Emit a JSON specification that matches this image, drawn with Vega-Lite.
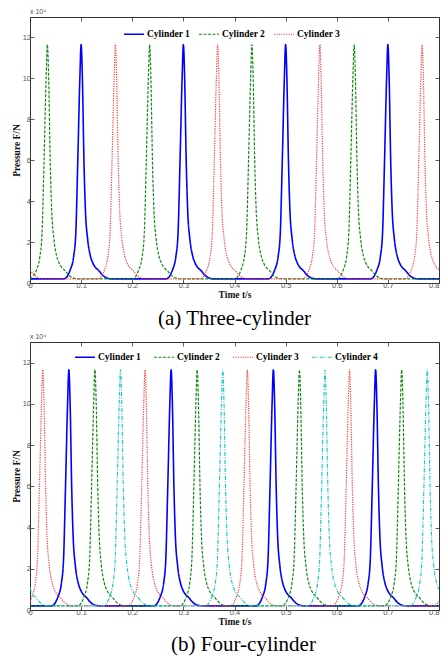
{
"$schema": "https://vega.github.io/schema/vega-lite/v6.json",
"background": "white",
"padding": {"left": 10, "top": 7, "right": 0, "bottom": 0},
"spacing": 2,
"config": {
 "font": "Liberation Sans",
 "view": {"stroke": "#333", "strokeWidth": 1},
 "axis": {"domain": false, "grid": false, "tickSize": -4, "tickColor": "#333", "tickWidth": 0.8, "labelFont": "Liberation Sans", "labelFontSize": 7.5, "labelColor": "#555", "titleFont": "Liberation Serif", "titleFontSize": 9.5, "titleFontWeight": "bold", "titleColor": "#111", "labelFlush": false},
 "axisLeft": {"labelPadding": 3.5, "titlePadding": 1},
 "axisBottom": {"labelPadding": 2, "titlePadding": 1},
 "title": {"font": "Liberation Serif", "fontSize": 21, "fontWeight": "normal", "color": "#000"}
},
"resolve": {"scale": {"color": "independent", "strokeDash": "independent", "strokeWidth": "independent"}, "legend": {"color": "independent", "strokeDash": "independent"}},
"datasets": {
"three": [
{"c":1,"t":0,"v":0.2},
{"c":1,"t":0.066,"v":0.2},{"c":1,"t":0.0793,"v":0.68},{"c":1,"t":0.0854,"v":1.3},{"c":1,"t":0.0895,"v":2.4},{"c":1,"t":0.0935,"v":6},{"c":1,"t":0.0975,"v":10},{"c":1,"t":0.1,"v":11.65},{"c":1,"t":0.1025,"v":10},{"c":1,"t":0.1055,"v":6},{"c":1,"t":0.1085,"v":3.5},{"c":1,"t":0.1125,"v":2.2},{"c":1,"t":0.1184,"v":1.3},{"c":1,"t":0.1225,"v":1},{"c":1,"t":0.128,"v":0.76},{"c":1,"t":0.134,"v":0.62},{"c":1,"t":0.141,"v":0.41},{"c":1,"t":0.148,"v":0.27},{"c":1,"t":0.16,"v":0.2},
{"c":1,"t":0.266,"v":0.2},{"c":1,"t":0.2793,"v":0.68},{"c":1,"t":0.2854,"v":1.3},{"c":1,"t":0.2895,"v":2.4},{"c":1,"t":0.2935,"v":6},{"c":1,"t":0.2975,"v":10},{"c":1,"t":0.3,"v":11.65},{"c":1,"t":0.3025,"v":10},{"c":1,"t":0.3055,"v":6},{"c":1,"t":0.3085,"v":3.5},{"c":1,"t":0.3125,"v":2.2},{"c":1,"t":0.3184,"v":1.3},{"c":1,"t":0.3225,"v":1},{"c":1,"t":0.328,"v":0.76},{"c":1,"t":0.334,"v":0.62},{"c":1,"t":0.341,"v":0.41},{"c":1,"t":0.348,"v":0.27},{"c":1,"t":0.36,"v":0.2},
{"c":1,"t":0.466,"v":0.2},{"c":1,"t":0.4793,"v":0.68},{"c":1,"t":0.4854,"v":1.3},{"c":1,"t":0.4895,"v":2.4},{"c":1,"t":0.4935,"v":6},{"c":1,"t":0.4975,"v":10},{"c":1,"t":0.5,"v":11.65},{"c":1,"t":0.5025,"v":10},{"c":1,"t":0.5055,"v":6},{"c":1,"t":0.5085,"v":3.5},{"c":1,"t":0.5125,"v":2.2},{"c":1,"t":0.5184,"v":1.3},{"c":1,"t":0.5225,"v":1},{"c":1,"t":0.528,"v":0.76},{"c":1,"t":0.534,"v":0.62},{"c":1,"t":0.541,"v":0.41},{"c":1,"t":0.548,"v":0.27},{"c":1,"t":0.56,"v":0.2},
{"c":1,"t":0.666,"v":0.2},{"c":1,"t":0.6793,"v":0.68},{"c":1,"t":0.6854,"v":1.3},{"c":1,"t":0.6895,"v":2.4},{"c":1,"t":0.6935,"v":6},{"c":1,"t":0.6975,"v":10},{"c":1,"t":0.7,"v":11.65},{"c":1,"t":0.7025,"v":10},{"c":1,"t":0.7055,"v":6},{"c":1,"t":0.7085,"v":3.5},{"c":1,"t":0.7125,"v":2.2},{"c":1,"t":0.7184,"v":1.3},{"c":1,"t":0.7225,"v":1},{"c":1,"t":0.728,"v":0.76},{"c":1,"t":0.734,"v":0.62},{"c":1,"t":0.741,"v":0.41},{"c":1,"t":0.748,"v":0.27},{"c":1,"t":0.76,"v":0.2},
{"c":1,"t":0.8,"v":0.2},
{"c":2,"t":0,"v":0.2},{"c":2,"t":0.0133,"v":0.68},{"c":2,"t":0.0194,"v":1.3},{"c":2,"t":0.0235,"v":2.4},{"c":2,"t":0.0275,"v":6},{"c":2,"t":0.0315,"v":10},{"c":2,"t":0.034,"v":11.65},{"c":2,"t":0.0365,"v":10},{"c":2,"t":0.0395,"v":6},{"c":2,"t":0.0425,"v":3.5},{"c":2,"t":0.0465,"v":2.2},{"c":2,"t":0.0524,"v":1.3},{"c":2,"t":0.0565,"v":1},{"c":2,"t":0.062,"v":0.76},{"c":2,"t":0.068,"v":0.62},{"c":2,"t":0.075,"v":0.41},{"c":2,"t":0.082,"v":0.27},{"c":2,"t":0.094,"v":0.2},
{"c":2,"t":0.2,"v":0.2},{"c":2,"t":0.2133,"v":0.68},{"c":2,"t":0.2194,"v":1.3},{"c":2,"t":0.2235,"v":2.4},{"c":2,"t":0.2275,"v":6},{"c":2,"t":0.2315,"v":10},{"c":2,"t":0.234,"v":11.65},{"c":2,"t":0.2365,"v":10},{"c":2,"t":0.2395,"v":6},{"c":2,"t":0.2425,"v":3.5},{"c":2,"t":0.2465,"v":2.2},{"c":2,"t":0.2524,"v":1.3},{"c":2,"t":0.2565,"v":1},{"c":2,"t":0.262,"v":0.76},{"c":2,"t":0.268,"v":0.62},{"c":2,"t":0.275,"v":0.41},{"c":2,"t":0.282,"v":0.27},{"c":2,"t":0.294,"v":0.2},
{"c":2,"t":0.4,"v":0.2},{"c":2,"t":0.4133,"v":0.68},{"c":2,"t":0.4194,"v":1.3},{"c":2,"t":0.4235,"v":2.4},{"c":2,"t":0.4275,"v":6},{"c":2,"t":0.4315,"v":10},{"c":2,"t":0.434,"v":11.65},{"c":2,"t":0.4365,"v":10},{"c":2,"t":0.4395,"v":6},{"c":2,"t":0.4425,"v":3.5},{"c":2,"t":0.4465,"v":2.2},{"c":2,"t":0.4524,"v":1.3},{"c":2,"t":0.4565,"v":1},{"c":2,"t":0.462,"v":0.76},{"c":2,"t":0.468,"v":0.62},{"c":2,"t":0.475,"v":0.41},{"c":2,"t":0.482,"v":0.27},{"c":2,"t":0.494,"v":0.2},
{"c":2,"t":0.6,"v":0.2},{"c":2,"t":0.6133,"v":0.68},{"c":2,"t":0.6194,"v":1.3},{"c":2,"t":0.6235,"v":2.4},{"c":2,"t":0.6275,"v":6},{"c":2,"t":0.6315,"v":10},{"c":2,"t":0.634,"v":11.65},{"c":2,"t":0.6365,"v":10},{"c":2,"t":0.6395,"v":6},{"c":2,"t":0.6425,"v":3.5},{"c":2,"t":0.6465,"v":2.2},{"c":2,"t":0.6524,"v":1.3},{"c":2,"t":0.6565,"v":1},{"c":2,"t":0.662,"v":0.76},{"c":2,"t":0.668,"v":0.62},{"c":2,"t":0.675,"v":0.41},{"c":2,"t":0.682,"v":0.27},{"c":2,"t":0.694,"v":0.2},
{"c":2,"t":0.8,"v":0.2},
{"c":3,"t":0,"v":0.64},{"c":3,"t":0.008,"v":0.41},{"c":3,"t":0.015,"v":0.27},{"c":3,"t":0.027,"v":0.2},
{"c":3,"t":0.133,"v":0.2},{"c":3,"t":0.1463,"v":0.68},{"c":3,"t":0.1524,"v":1.3},{"c":3,"t":0.1565,"v":2.4},{"c":3,"t":0.1605,"v":6},{"c":3,"t":0.1645,"v":10},{"c":3,"t":0.167,"v":11.65},{"c":3,"t":0.1695,"v":10},{"c":3,"t":0.1725,"v":6},{"c":3,"t":0.1755,"v":3.5},{"c":3,"t":0.1795,"v":2.2},{"c":3,"t":0.1854,"v":1.3},{"c":3,"t":0.1895,"v":1},{"c":3,"t":0.195,"v":0.76},{"c":3,"t":0.201,"v":0.62},{"c":3,"t":0.208,"v":0.41},{"c":3,"t":0.215,"v":0.27},{"c":3,"t":0.227,"v":0.2},
{"c":3,"t":0.333,"v":0.2},{"c":3,"t":0.3463,"v":0.68},{"c":3,"t":0.3524,"v":1.3},{"c":3,"t":0.3565,"v":2.4},{"c":3,"t":0.3605,"v":6},{"c":3,"t":0.3645,"v":10},{"c":3,"t":0.367,"v":11.65},{"c":3,"t":0.3695,"v":10},{"c":3,"t":0.3725,"v":6},{"c":3,"t":0.3755,"v":3.5},{"c":3,"t":0.3795,"v":2.2},{"c":3,"t":0.3854,"v":1.3},{"c":3,"t":0.3895,"v":1},{"c":3,"t":0.395,"v":0.76},{"c":3,"t":0.401,"v":0.62},{"c":3,"t":0.408,"v":0.41},{"c":3,"t":0.415,"v":0.27},{"c":3,"t":0.427,"v":0.2},
{"c":3,"t":0.533,"v":0.2},{"c":3,"t":0.5463,"v":0.68},{"c":3,"t":0.5524,"v":1.3},{"c":3,"t":0.5565,"v":2.4},{"c":3,"t":0.5605,"v":6},{"c":3,"t":0.5645,"v":10},{"c":3,"t":0.567,"v":11.65},{"c":3,"t":0.5695,"v":10},{"c":3,"t":0.5725,"v":6},{"c":3,"t":0.5755,"v":3.5},{"c":3,"t":0.5795,"v":2.2},{"c":3,"t":0.5854,"v":1.3},{"c":3,"t":0.5895,"v":1},{"c":3,"t":0.595,"v":0.76},{"c":3,"t":0.601,"v":0.62},{"c":3,"t":0.608,"v":0.41},{"c":3,"t":0.615,"v":0.27},{"c":3,"t":0.627,"v":0.2},
{"c":3,"t":0.733,"v":0.2},{"c":3,"t":0.7463,"v":0.68},{"c":3,"t":0.7524,"v":1.3},{"c":3,"t":0.7565,"v":2.4},{"c":3,"t":0.7605,"v":6},{"c":3,"t":0.7645,"v":10},{"c":3,"t":0.767,"v":11.65},{"c":3,"t":0.7695,"v":10},{"c":3,"t":0.7725,"v":6},{"c":3,"t":0.7755,"v":3.5},{"c":3,"t":0.7795,"v":2.2},{"c":3,"t":0.7854,"v":1.3},{"c":3,"t":0.7895,"v":1},{"c":3,"t":0.795,"v":0.76},{"c":3,"t":0.8,"v":0.64}
],
"four": [
{"c":1,"t":0,"v":0.2},
{"c":1,"t":0.042,"v":0.2},{"c":1,"t":0.0553,"v":0.68},{"c":1,"t":0.0614,"v":1.3},{"c":1,"t":0.0655,"v":2.4},{"c":1,"t":0.0695,"v":6},{"c":1,"t":0.0735,"v":10},{"c":1,"t":0.076,"v":11.65},{"c":1,"t":0.0785,"v":10},{"c":1,"t":0.0815,"v":6},{"c":1,"t":0.0845,"v":3.5},{"c":1,"t":0.0885,"v":2.2},{"c":1,"t":0.0944,"v":1.3},{"c":1,"t":0.0985,"v":1},{"c":1,"t":0.104,"v":0.76},{"c":1,"t":0.11,"v":0.62},{"c":1,"t":0.117,"v":0.41},{"c":1,"t":0.124,"v":0.27},{"c":1,"t":0.136,"v":0.2},
{"c":1,"t":0.242,"v":0.2},{"c":1,"t":0.2553,"v":0.68},{"c":1,"t":0.2614,"v":1.3},{"c":1,"t":0.2655,"v":2.4},{"c":1,"t":0.2695,"v":6},{"c":1,"t":0.2735,"v":10},{"c":1,"t":0.276,"v":11.65},{"c":1,"t":0.2785,"v":10},{"c":1,"t":0.2815,"v":6},{"c":1,"t":0.2845,"v":3.5},{"c":1,"t":0.2885,"v":2.2},{"c":1,"t":0.2944,"v":1.3},{"c":1,"t":0.2985,"v":1},{"c":1,"t":0.304,"v":0.76},{"c":1,"t":0.31,"v":0.62},{"c":1,"t":0.317,"v":0.41},{"c":1,"t":0.324,"v":0.27},{"c":1,"t":0.336,"v":0.2},
{"c":1,"t":0.442,"v":0.2},{"c":1,"t":0.4553,"v":0.68},{"c":1,"t":0.4614,"v":1.3},{"c":1,"t":0.4655,"v":2.4},{"c":1,"t":0.4695,"v":6},{"c":1,"t":0.4735,"v":10},{"c":1,"t":0.476,"v":11.65},{"c":1,"t":0.4785,"v":10},{"c":1,"t":0.4815,"v":6},{"c":1,"t":0.4845,"v":3.5},{"c":1,"t":0.4885,"v":2.2},{"c":1,"t":0.4944,"v":1.3},{"c":1,"t":0.4985,"v":1},{"c":1,"t":0.504,"v":0.76},{"c":1,"t":0.51,"v":0.62},{"c":1,"t":0.517,"v":0.41},{"c":1,"t":0.524,"v":0.27},{"c":1,"t":0.536,"v":0.2},
{"c":1,"t":0.642,"v":0.2},{"c":1,"t":0.6553,"v":0.68},{"c":1,"t":0.6614,"v":1.3},{"c":1,"t":0.6655,"v":2.4},{"c":1,"t":0.6695,"v":6},{"c":1,"t":0.6735,"v":10},{"c":1,"t":0.676,"v":11.65},{"c":1,"t":0.6785,"v":10},{"c":1,"t":0.6815,"v":6},{"c":1,"t":0.6845,"v":3.5},{"c":1,"t":0.6885,"v":2.2},{"c":1,"t":0.6944,"v":1.3},{"c":1,"t":0.6985,"v":1},{"c":1,"t":0.704,"v":0.76},{"c":1,"t":0.71,"v":0.62},{"c":1,"t":0.717,"v":0.41},{"c":1,"t":0.724,"v":0.27},{"c":1,"t":0.736,"v":0.2},
{"c":1,"t":0.8,"v":0.2},
{"c":2,"t":0,"v":0.2},
{"c":2,"t":0.093,"v":0.2},{"c":2,"t":0.1063,"v":0.68},{"c":2,"t":0.1124,"v":1.3},{"c":2,"t":0.1165,"v":2.4},{"c":2,"t":0.1205,"v":6},{"c":2,"t":0.1245,"v":10},{"c":2,"t":0.127,"v":11.65},{"c":2,"t":0.1295,"v":10},{"c":2,"t":0.1325,"v":6},{"c":2,"t":0.1355,"v":3.5},{"c":2,"t":0.1395,"v":2.2},{"c":2,"t":0.1454,"v":1.3},{"c":2,"t":0.1495,"v":1},{"c":2,"t":0.155,"v":0.76},{"c":2,"t":0.161,"v":0.62},{"c":2,"t":0.168,"v":0.41},{"c":2,"t":0.175,"v":0.27},{"c":2,"t":0.187,"v":0.2},
{"c":2,"t":0.293,"v":0.2},{"c":2,"t":0.3063,"v":0.68},{"c":2,"t":0.3124,"v":1.3},{"c":2,"t":0.3165,"v":2.4},{"c":2,"t":0.3205,"v":6},{"c":2,"t":0.3245,"v":10},{"c":2,"t":0.327,"v":11.65},{"c":2,"t":0.3295,"v":10},{"c":2,"t":0.3325,"v":6},{"c":2,"t":0.3355,"v":3.5},{"c":2,"t":0.3395,"v":2.2},{"c":2,"t":0.3454,"v":1.3},{"c":2,"t":0.3495,"v":1},{"c":2,"t":0.355,"v":0.76},{"c":2,"t":0.361,"v":0.62},{"c":2,"t":0.368,"v":0.41},{"c":2,"t":0.375,"v":0.27},{"c":2,"t":0.387,"v":0.2},
{"c":2,"t":0.493,"v":0.2},{"c":2,"t":0.5063,"v":0.68},{"c":2,"t":0.5124,"v":1.3},{"c":2,"t":0.5165,"v":2.4},{"c":2,"t":0.5205,"v":6},{"c":2,"t":0.5245,"v":10},{"c":2,"t":0.527,"v":11.65},{"c":2,"t":0.5295,"v":10},{"c":2,"t":0.5325,"v":6},{"c":2,"t":0.5355,"v":3.5},{"c":2,"t":0.5395,"v":2.2},{"c":2,"t":0.5454,"v":1.3},{"c":2,"t":0.5495,"v":1},{"c":2,"t":0.555,"v":0.76},{"c":2,"t":0.561,"v":0.62},{"c":2,"t":0.568,"v":0.41},{"c":2,"t":0.575,"v":0.27},{"c":2,"t":0.587,"v":0.2},
{"c":2,"t":0.693,"v":0.2},{"c":2,"t":0.7063,"v":0.68},{"c":2,"t":0.7124,"v":1.3},{"c":2,"t":0.7165,"v":2.4},{"c":2,"t":0.7205,"v":6},{"c":2,"t":0.7245,"v":10},{"c":2,"t":0.727,"v":11.65},{"c":2,"t":0.7295,"v":10},{"c":2,"t":0.7325,"v":6},{"c":2,"t":0.7355,"v":3.5},{"c":2,"t":0.7395,"v":2.2},{"c":2,"t":0.7454,"v":1.3},{"c":2,"t":0.7495,"v":1},{"c":2,"t":0.755,"v":0.76},{"c":2,"t":0.761,"v":0.62},{"c":2,"t":0.768,"v":0.41},{"c":2,"t":0.775,"v":0.27},{"c":2,"t":0.787,"v":0.2},
{"c":2,"t":0.8,"v":0.2},
{"c":3,"t":0,"v":0.43},{"c":3,"t":0.0043,"v":0.68},{"c":3,"t":0.0104,"v":1.3},{"c":3,"t":0.0145,"v":2.4},{"c":3,"t":0.0185,"v":6},{"c":3,"t":0.0225,"v":10},{"c":3,"t":0.025,"v":11.65},{"c":3,"t":0.0275,"v":10},{"c":3,"t":0.0305,"v":6},{"c":3,"t":0.0335,"v":3.5},{"c":3,"t":0.0375,"v":2.2},{"c":3,"t":0.0434,"v":1.3},{"c":3,"t":0.0475,"v":1},{"c":3,"t":0.053,"v":0.76},{"c":3,"t":0.059,"v":0.62},{"c":3,"t":0.066,"v":0.41},{"c":3,"t":0.073,"v":0.27},{"c":3,"t":0.085,"v":0.2},
{"c":3,"t":0.191,"v":0.2},{"c":3,"t":0.2043,"v":0.68},{"c":3,"t":0.2104,"v":1.3},{"c":3,"t":0.2145,"v":2.4},{"c":3,"t":0.2185,"v":6},{"c":3,"t":0.2225,"v":10},{"c":3,"t":0.225,"v":11.65},{"c":3,"t":0.2275,"v":10},{"c":3,"t":0.2305,"v":6},{"c":3,"t":0.2335,"v":3.5},{"c":3,"t":0.2375,"v":2.2},{"c":3,"t":0.2434,"v":1.3},{"c":3,"t":0.2475,"v":1},{"c":3,"t":0.253,"v":0.76},{"c":3,"t":0.259,"v":0.62},{"c":3,"t":0.266,"v":0.41},{"c":3,"t":0.273,"v":0.27},{"c":3,"t":0.285,"v":0.2},
{"c":3,"t":0.391,"v":0.2},{"c":3,"t":0.4043,"v":0.68},{"c":3,"t":0.4104,"v":1.3},{"c":3,"t":0.4145,"v":2.4},{"c":3,"t":0.4185,"v":6},{"c":3,"t":0.4225,"v":10},{"c":3,"t":0.425,"v":11.65},{"c":3,"t":0.4275,"v":10},{"c":3,"t":0.4305,"v":6},{"c":3,"t":0.4335,"v":3.5},{"c":3,"t":0.4375,"v":2.2},{"c":3,"t":0.4434,"v":1.3},{"c":3,"t":0.4475,"v":1},{"c":3,"t":0.453,"v":0.76},{"c":3,"t":0.459,"v":0.62},{"c":3,"t":0.466,"v":0.41},{"c":3,"t":0.473,"v":0.27},{"c":3,"t":0.485,"v":0.2},
{"c":3,"t":0.591,"v":0.2},{"c":3,"t":0.6043,"v":0.68},{"c":3,"t":0.6104,"v":1.3},{"c":3,"t":0.6145,"v":2.4},{"c":3,"t":0.6185,"v":6},{"c":3,"t":0.6225,"v":10},{"c":3,"t":0.625,"v":11.65},{"c":3,"t":0.6275,"v":10},{"c":3,"t":0.6305,"v":6},{"c":3,"t":0.6335,"v":3.5},{"c":3,"t":0.6375,"v":2.2},{"c":3,"t":0.6434,"v":1.3},{"c":3,"t":0.6475,"v":1},{"c":3,"t":0.653,"v":0.76},{"c":3,"t":0.659,"v":0.62},{"c":3,"t":0.666,"v":0.41},{"c":3,"t":0.673,"v":0.27},{"c":3,"t":0.685,"v":0.2},
{"c":3,"t":0.791,"v":0.2},{"c":3,"t":0.8,"v":0.43},
{"c":4,"t":0,"v":1.1},{"c":4,"t":0.005,"v":0.76},{"c":4,"t":0.011,"v":0.62},{"c":4,"t":0.018,"v":0.41},{"c":4,"t":0.025,"v":0.27},{"c":4,"t":0.037,"v":0.2},
{"c":4,"t":0.143,"v":0.2},{"c":4,"t":0.1563,"v":0.68},{"c":4,"t":0.1624,"v":1.3},{"c":4,"t":0.1665,"v":2.4},{"c":4,"t":0.1705,"v":6},{"c":4,"t":0.1745,"v":10},{"c":4,"t":0.177,"v":11.65},{"c":4,"t":0.1795,"v":10},{"c":4,"t":0.1825,"v":6},{"c":4,"t":0.1855,"v":3.5},{"c":4,"t":0.1895,"v":2.2},{"c":4,"t":0.1954,"v":1.3},{"c":4,"t":0.1995,"v":1},{"c":4,"t":0.205,"v":0.76},{"c":4,"t":0.211,"v":0.62},{"c":4,"t":0.218,"v":0.41},{"c":4,"t":0.225,"v":0.27},{"c":4,"t":0.237,"v":0.2},
{"c":4,"t":0.343,"v":0.2},{"c":4,"t":0.3563,"v":0.68},{"c":4,"t":0.3624,"v":1.3},{"c":4,"t":0.3665,"v":2.4},{"c":4,"t":0.3705,"v":6},{"c":4,"t":0.3745,"v":10},{"c":4,"t":0.377,"v":11.65},{"c":4,"t":0.3795,"v":10},{"c":4,"t":0.3825,"v":6},{"c":4,"t":0.3855,"v":3.5},{"c":4,"t":0.3895,"v":2.2},{"c":4,"t":0.3954,"v":1.3},{"c":4,"t":0.3995,"v":1},{"c":4,"t":0.405,"v":0.76},{"c":4,"t":0.411,"v":0.62},{"c":4,"t":0.418,"v":0.41},{"c":4,"t":0.425,"v":0.27},{"c":4,"t":0.437,"v":0.2},
{"c":4,"t":0.543,"v":0.2},{"c":4,"t":0.5563,"v":0.68},{"c":4,"t":0.5624,"v":1.3},{"c":4,"t":0.5665,"v":2.4},{"c":4,"t":0.5705,"v":6},{"c":4,"t":0.5745,"v":10},{"c":4,"t":0.577,"v":11.65},{"c":4,"t":0.5795,"v":10},{"c":4,"t":0.5825,"v":6},{"c":4,"t":0.5855,"v":3.5},{"c":4,"t":0.5895,"v":2.2},{"c":4,"t":0.5954,"v":1.3},{"c":4,"t":0.5995,"v":1},{"c":4,"t":0.605,"v":0.76},{"c":4,"t":0.611,"v":0.62},{"c":4,"t":0.618,"v":0.41},{"c":4,"t":0.625,"v":0.27},{"c":4,"t":0.637,"v":0.2},
{"c":4,"t":0.743,"v":0.2},{"c":4,"t":0.7563,"v":0.68},{"c":4,"t":0.7624,"v":1.3},{"c":4,"t":0.7665,"v":2.4},{"c":4,"t":0.7705,"v":6},{"c":4,"t":0.7745,"v":10},{"c":4,"t":0.777,"v":11.65},{"c":4,"t":0.7795,"v":10},{"c":4,"t":0.7825,"v":6},{"c":4,"t":0.7855,"v":3.5},{"c":4,"t":0.7895,"v":2.2},{"c":4,"t":0.7954,"v":1.3},{"c":4,"t":0.8,"v":1.0}
]
},
"vconcat": [
{
 "width": 409, "height": 266,
 "title": {"text": "(a) Three-cylinder", "orient": "bottom", "offset": 9},
 "data": {"name": "three"},
 "layer": [
  {"mark": {"type": "line", "interpolate": "monotone", "clip": true},
   "encoding": {
    "x": {"field": "t", "type": "quantitative", "scale": {"domain": [0, 0.8], "nice": false, "zero": false}, "axis": {"orient": "bottom", "values": [0,0.1,0.2,0.3,0.4,0.5,0.6,0.7,0.8], "format": "~g", "title": "Time t/s", "labelAlign": {"condition": {"test": "datum.value > 0.79", "value": "right"}, "value": "center"}}},
    "y": {"field": "v", "type": "quantitative", "scale": {"domain": [0, 13], "nice": false}, "axis": {"orient": "left", "values": [0,2,4,6,8,10,12], "title": "Pressure F/N"}},
    "color": {"field": "c", "type": "nominal", "scale": {"domain": [1,2,3], "range": ["#0000ff","#108a10","#ff3b3b"]},
      "legend": {"orient": "none", "legendX": 93, "legendY": 6, "direction": "horizontal", "title": null, "labelExpr": "'Cylinder ' + datum.label", "symbolType": "stroke", "symbolSize": 400, "symbolStrokeWidth": 1.5, "labelFont": "Liberation Serif", "labelFontSize": 9.5, "labelFontWeight": "bold", "labelColor": "#000", "columnPadding": 5, "labelOffset": 2, "padding": 0}},
    "strokeDash": {"field": "c", "type": "nominal", "scale": {"domain": [1,2,3], "range": [[1,0],[3,1.5],[1.2,1.2]]},
      "legend": {"orient": "none", "legendX": 93, "legendY": 6, "direction": "horizontal", "title": null, "labelExpr": "'Cylinder ' + datum.label", "symbolType": "stroke", "symbolSize": 400, "symbolStrokeWidth": 1.5, "labelFont": "Liberation Serif", "labelFontSize": 9.5, "labelFontWeight": "bold", "labelColor": "#000", "columnPadding": 5, "labelOffset": 2, "padding": 0}},
    "strokeWidth": {"field": "c", "type": "nominal", "scale": {"type": "ordinal", "domain": [1,2,3], "range": [1.6,1.2,1.2]}, "legend": null}
   }},
  {"data": {"values": [{"s": "x 10⁴"}]},
   "mark": {"type": "text", "align": "left", "baseline": "bottom", "dy": -2, "fontSize": 7, "font": "Liberation Sans", "color": "#555"},
   "encoding": {
    "x": {"datum": 0, "type": "quantitative", "axis": {"orient": "top", "labels": false, "title": null, "values": [0,0.1,0.2,0.3,0.4,0.5,0.6,0.7,0.8]}},
    "y": {"datum": 13, "type": "quantitative", "axis": {"orient": "right", "labels": false, "title": null, "values": [0,2,4,6,8,10,12]}},
    "text": {"field": "s"}
   }}
 ],
 "resolve": {"axis": {"x": "independent", "y": "independent"}}
},
{
 "width": 409, "height": 268,
 "title": {"text": "(b) Four-cylinder", "orient": "bottom", "offset": 8, "dx": 9},
 "data": {"name": "four"},
 "layer": [
  {"mark": {"type": "line", "interpolate": "monotone", "clip": true},
   "encoding": {
    "x": {"field": "t", "type": "quantitative", "scale": {"domain": [0, 0.8], "nice": false, "zero": false}, "axis": {"orient": "bottom", "values": [0,0.1,0.2,0.3,0.4,0.5,0.6,0.7,0.8], "format": "~g", "title": "Time t/s", "labelAlign": {"condition": {"test": "datum.value > 0.79", "value": "right"}, "value": "center"}}},
    "y": {"field": "v", "type": "quantitative", "scale": {"domain": [0, 13], "nice": false}, "axis": {"orient": "left", "values": [0,2,4,6,8,10,12], "title": "Pressure F/N"}},
    "color": {"field": "c", "type": "nominal", "scale": {"domain": [1,2,3,4], "range": ["#0000ff","#108a10","#ff3b3b","#22c8c8"]},
      "legend": {"orient": "none", "legendX": 44, "legendY": 4, "direction": "horizontal", "title": null, "labelExpr": "'Cylinder ' + datum.label", "symbolType": "stroke", "symbolSize": 400, "symbolStrokeWidth": 1.5, "labelFont": "Liberation Serif", "labelFontSize": 9.5, "labelFontWeight": "bold", "labelColor": "#000", "columnPadding": 9, "labelOffset": 2, "padding": 0}},
    "strokeDash": {"field": "c", "type": "nominal", "scale": {"domain": [1,2,3,4], "range": [[1,0],[3,1.5],[1.2,1.2],[4,1.5,1,1.5]]},
      "legend": {"orient": "none", "legendX": 44, "legendY": 4, "direction": "horizontal", "title": null, "labelExpr": "'Cylinder ' + datum.label", "symbolType": "stroke", "symbolSize": 400, "symbolStrokeWidth": 1.5, "labelFont": "Liberation Serif", "labelFontSize": 9.5, "labelFontWeight": "bold", "labelColor": "#000", "columnPadding": 9, "labelOffset": 2, "padding": 0}},
    "strokeWidth": {"field": "c", "type": "nominal", "scale": {"type": "ordinal", "domain": [1,2,3,4], "range": [1.6,1.2,1.2,1.2]}, "legend": null}
   }},
  {"data": {"values": [{"s": "x 10⁴"}]},
   "mark": {"type": "text", "align": "left", "baseline": "bottom", "dy": -2, "fontSize": 7, "font": "Liberation Sans", "color": "#555"},
   "encoding": {
    "x": {"datum": 0, "type": "quantitative", "axis": {"orient": "top", "labels": false, "title": null, "values": [0,0.1,0.2,0.3,0.4,0.5,0.6,0.7,0.8]}},
    "y": {"datum": 13, "type": "quantitative", "axis": {"orient": "right", "labels": false, "title": null, "values": [0,2,4,6,8,10,12]}},
    "text": {"field": "s"}
   }}
 ],
 "resolve": {"axis": {"x": "independent", "y": "independent"}}
}
]
}
